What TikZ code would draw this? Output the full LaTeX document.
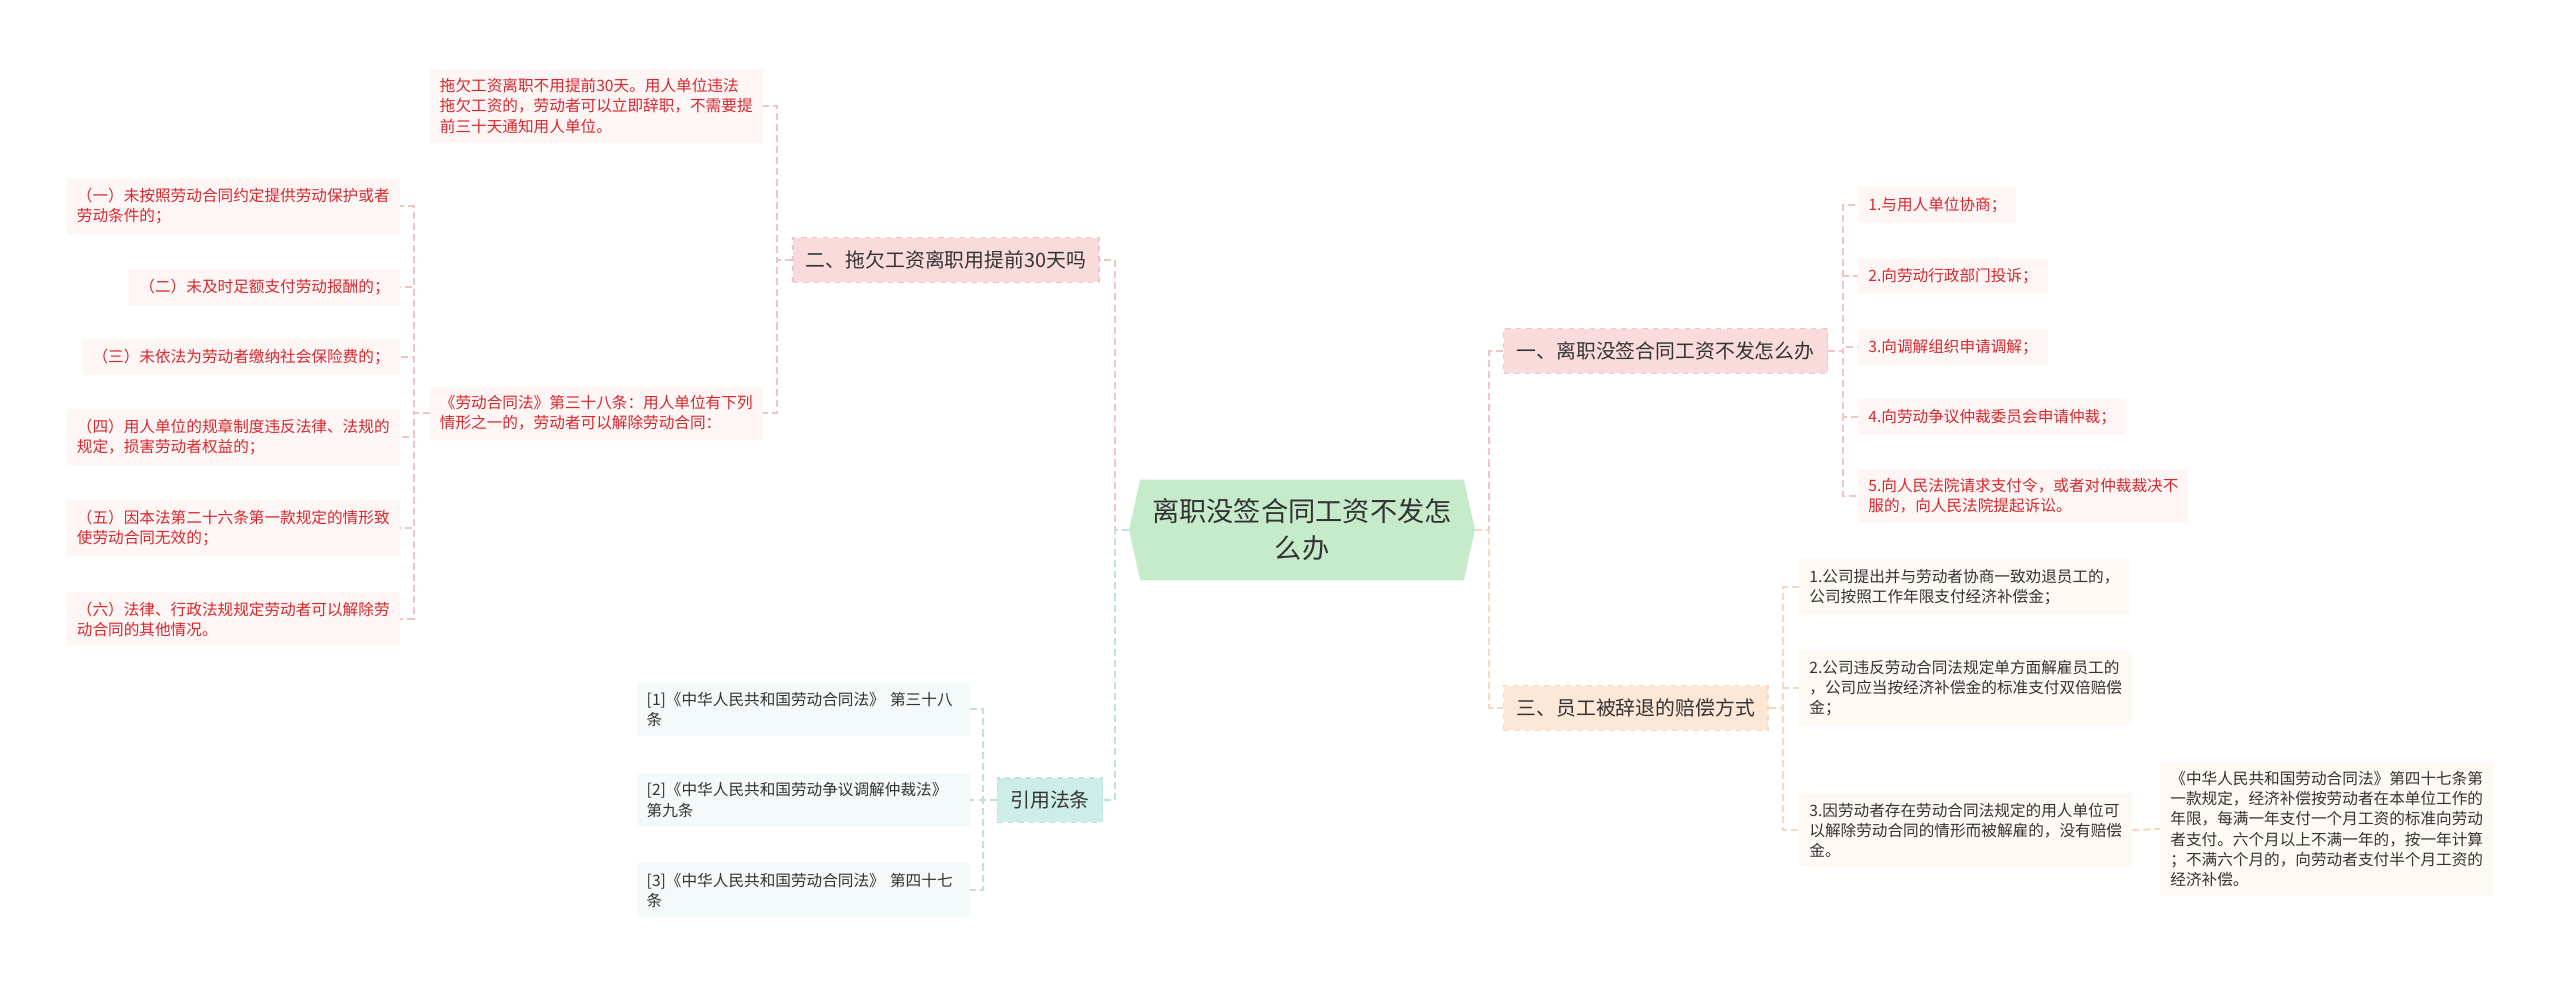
\documentclass[tikz,border=0pt]{standalone}
\usepackage{fontspec}
\setmainfont{Noto Sans CJK SC}
\usepackage{xcolor}
\usepackage{tikz}
\usetikzlibrary{positioning, shapes.symbols}

\definecolor{rootgreen}{HTML}{C6EBCB}
\definecolor{pinkfill}{HTML}{FADBDB}
\definecolor{pinkline}{HTML}{F2C3C8}
\definecolor{peachfill}{HTML}{FDE8D7}
\definecolor{peachline}{HTML}{F7D7BE}
\definecolor{tealfill}{HTML}{CDEEE8}
\definecolor{tealline}{HTML}{BDE2DC}
\definecolor{leafred}{HTML}{D8282E}
\definecolor{leafpink}{HTML}{FEF5F5}
\definecolor{leafpeach}{HTML}{FFF9F3}
\definecolor{leafteal}{HTML}{F3FAF9}
\definecolor{textgray}{HTML}{333333}

\begin{document}
\begin{tikzpicture}[
    x=0.02cm,
    y=-0.02cm,
    root/.style={
        signal,
        signal to=west and east,
        signal pointer angle=155,
        fill=rootgreen,
        minimum width=6.92cm,
        minimum height=2.02cm,
        inner sep=0pt,
        align=center,
        text=textgray,
        font=\fontsize{15.5pt}{21pt}\selectfont
    },
    branch/.style={
        draw,
        dashed,
        line width=0.8pt,
        inner xsep=0.26cm,
        inner ysep=0.26cm,
        text=textgray,
        font=\fontsize{11.3pt}{14pt}\selectfont
    },
    leaf/.style={
        inner xsep=0.2cm,
        inner ysep=0.2cm,
        align=left,
        font=\fontsize{8.9pt}{11.4pt}\selectfont
    },
    redleaf/.style={leaf, fill=leafpink, text=leafred},
    peachleaf/.style={leaf, fill=leafpeach, text=textgray},
    tealleaf/.style={leaf, fill=leafteal, text=textgray, text width=6.26cm},
    link/.style={
        line width=1.1pt,
        dash pattern=on 4pt off 2.3pt
    }
]
\useasboundingbox (0,0) rectangle (2560,987);

% Root
\node[root] (ctr) at (1302,530) {离职没签合同工资不发怎\\么办};

% Branch two
\node[branch, fill=pinkfill, draw=pinkline] (q2) at (946,260) {二、拖欠工资离职用提前30天吗};

\node[redleaf, anchor=east] (q2a) at (763,106) {拖欠工资离职不用提前30天。用人单位违法\\拖欠工资的，劳动者可以立即辞职，不需要提\\前三十天通知用人单位。};
\node[redleaf, anchor=east] (q2b) at (763,413) {《劳动合同法》第三十八条：用人单位有下列\\情形之一的，劳动者可以解除劳动合同：};

\node[redleaf, anchor=east] (art1) at (400,206) {（一）未按照劳动合同约定提供劳动保护或者\\劳动条件的；};
\node[redleaf, anchor=east] (art2) at (400,287) {（二）未及时足额支付劳动报酬的；};
\node[redleaf, anchor=east] (art3) at (400,357) {（三）未依法为劳动者缴纳社会保险费的；};
\node[redleaf, anchor=east] (art4) at (400,437) {（四）用人单位的规章制度违反法律、法规的\\规定，损害劳动者权益的；};
\node[redleaf, anchor=east] (art5) at (400,528) {（五）因本法第二十六条第一款规定的情形致\\使劳动合同无效的；};
\node[redleaf, anchor=east] (art6) at (400,619) {（六）法律、行政法规规定劳动者可以解除劳\\动合同的其他情况。};

% Cited laws
\node[branch, fill=tealfill, draw=tealline] (cite) at (1050,800) {引用法条};

\node[tealleaf, anchor=east] (cite1) at (970,709) {[1]《中华人民共和国劳动合同法》 第三十八\\条};
\node[tealleaf, anchor=east] (cite2) at (970,800) {[2]《中华人民共和国劳动争议调解仲裁法》\\第九条};
\node[tealleaf, anchor=east] (cite3) at (970,890) {[3]《中华人民共和国劳动合同法》 第四十七\\条};

% Branch one
\node[branch, fill=pinkfill, draw=pinkline, anchor=west] (q1) at (1503,351) {一、离职没签合同工资不发怎么办};

\node[redleaf, anchor=west] (q1a) at (1858,205) {1.与用人单位协商；};
\node[redleaf, anchor=west] (q1b) at (1858,276) {2.向劳动行政部门投诉；};
\node[redleaf, anchor=west] (q1c) at (1858,347) {3.向调解组织申请调解；};
\node[redleaf, anchor=west] (q1d) at (1858,417) {4.向劳动争议仲裁委员会申请仲裁；};
\node[redleaf, anchor=west] (q1e) at (1858,496) {5.向人民法院请求支付令，或者对仲裁裁决不\\服的，向人民法院提起诉讼。};

% Branch three
\node[branch, fill=peachfill, draw=peachline, anchor=west] (q3) at (1503,708) {三、员工被辞退的赔偿方式};

\node[peachleaf, anchor=west] (q3a) at (1799,587) {1.公司提出并与劳动者协商一致劝退员工的，\\公司按照工作年限支付经济补偿金；};
\node[peachleaf, anchor=west] (q3b) at (1799,688) {2.公司违反劳动合同法规定单方面解雇员工的\\，公司应当按经济补偿金的标准支付双倍赔偿\\金；};
\node[peachleaf, anchor=west] (q3c) at (1799,830) {3.因劳动者存在劳动合同法规定的用人单位可\\以解除劳动合同的情形而被解雇的，没有赔偿\\金。};
\node[peachleaf, anchor=west] (q3note) at (2160,829) {《中华人民共和国劳动合同法》第四十七条第\\一款规定，经济补偿按劳动者在本单位工作的\\年限，每满一年支付一个月工资的标准向劳动\\者支付。六个月以上不满一年的，按一年计算\\；不满六个月的，向劳动者支付半个月工资的\\经济补偿。};

% Connectors
\draw[link, pinkline] (ctr.west) -- ++(-14,0) |- (q2.east);
\draw[link, tealline] (ctr.west) -- ++(-14,0) |- (cite.east);
\draw[link, pinkline] (ctr.east) -- ++(14,0) |- (q1.west);
\draw[link, peachline] (ctr.east) -- ++(14,0) |- (q3.west);

\draw[link, pinkline] (q2.west) -- ++(-15,0) |- (q2a.east);
\draw[link, pinkline] (q2.west) -- ++(-15,0) |- (q2b.east);

\draw[link, pinkline] (q2b.west) -- ++(-16,0) |- (art1.east);
\draw[link, pinkline] (q2b.west) -- ++(-16,0) |- (art2.east);
\draw[link, pinkline] (q2b.west) -- ++(-16,0) |- (art3.east);
\draw[link, pinkline] (q2b.west) -- ++(-16,0) |- (art4.east);
\draw[link, pinkline] (q2b.west) -- ++(-16,0) |- (art5.east);
\draw[link, pinkline] (q2b.west) -- ++(-16,0) |- (art6.east);

\draw[link, tealline] (cite.west) -- ++(-14,0) |- (cite1.east);
\draw[link, tealline] (cite.west) -- ++(-14,0) |- (cite2.east);
\draw[link, tealline] (cite.west) -- ++(-14,0) |- (cite3.east);

\draw[link, pinkline] (q1.east) -- ++(15,0) |- (q1a.west);
\draw[link, pinkline] (q1.east) -- ++(15,0) |- (q1b.west);
\draw[link, pinkline] (q1.east) -- ++(15,0) |- (q1c.west);
\draw[link, pinkline] (q1.east) -- ++(15,0) |- (q1d.west);
\draw[link, pinkline] (q1.east) -- ++(15,0) |- (q1e.west);

\draw[link, peachline] (q3.east) -- ++(14,0) |- (q3a.west);
\draw[link, peachline] (q3.east) -- ++(14,0) |- (q3b.west);
\draw[link, peachline] (q3.east) -- ++(14,0) |- (q3c.west);
\draw[link, peachline] (q3c.east) -- (q3note.west);

\end{tikzpicture}
\end{document}
